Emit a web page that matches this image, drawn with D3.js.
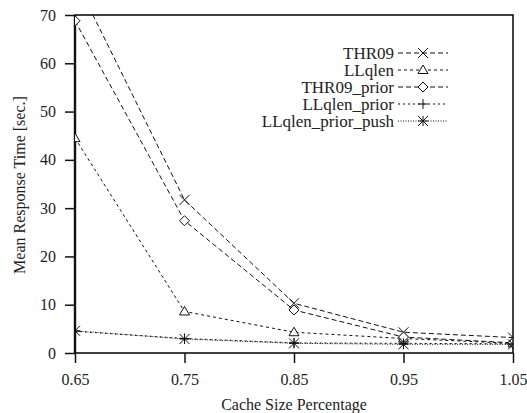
<!DOCTYPE html>
<html>
<head>
<meta charset="utf-8">
<script src="https://cdn.jsdelivr.net/npm/d3@7"></script>
<style>
  body { margin: 0; background: #fff; }
  svg text { font-family: "Liberation Serif", "Times New Roman", serif !important; fill: #222; }
</style>
</head>
<body>
<div id="chart"></div>
<script>
const cacheSizes = [0.65, 0.75, 0.85, 0.95, 1.05];
const thr09 = [77.5, 31.7, 10.3, 4.3, 3.2];
const llqlen = [44.5, 8.6, 4.3, 3.0, 2.0];
const thr09Prior = [68.8, 27.4, 8.9, 3.3, 2.1];
const llqlenPrior = [4.5, 3.0, 2.1, 2.0, 1.9];
const llqlenPriorPush = [4.6, 2.9, 2.0, 1.8, 1.8];
const yTicks = [0, 10, 20, 30, 40, 50, 60, 70];

const series = [
  { name: "THR09", values: thr09, dash: "5,3", marker: "cross" },
  { name: "LLqlen", values: llqlen, dash: "3,3", marker: "triangle" },
  { name: "THR09_prior", values: thr09Prior, dash: "5,3", marker: "diamond" },
  { name: "LLqlen_prior", values: llqlenPrior, dash: "2,3", marker: "plus" },
  { name: "LLqlen_prior_push", values: llqlenPriorPush, dash: "1,1.5", marker: "star" }
];

const margin = { top: 15, right: 14, bottom: 60, left: 75 };
const W = 527, H = 413;
const width = W - margin.left - margin.right;
const height = H - margin.top - margin.bottom;

const svg = d3.select("#chart").append("svg")
  .attr("width", W)
  .attr("height", H);
const g = svg.append("g")
  .attr("transform", "translate(" + margin.left + "," + margin.top + ")");

const x = d3.scaleLinear().domain([0.65, 1.05]).range([0, width]);
const y = d3.scaleLinear().domain([0, 70]).range([height, 0]);

g.append("clipPath").attr("id", "clip")
  .append("rect").attr("width", width).attr("height", height);

// axes
const yAxis = g.append("g")
  .call(d3.axisLeft(y).tickValues(yTicks).tickSize(10).tickPadding(9));
const xAxis = g.append("g")
  .attr("transform", "translate(0," + height + ")")
  .call(d3.axisBottom(x).tickValues(cacheSizes).tickSize(10).tickPadding(11).tickFormat(d3.format(".2f")));

[yAxis, xAxis].forEach(a => {
  a.attr("font-family", null).attr("font-size", null);
  a.select(".domain").remove();
  a.selectAll("line").attr("stroke", "#111").attr("stroke-width", 1.5);
  a.selectAll("text").style("font-size", "16px").attr("fill", "#222");
});

// frame
g.append("rect")
  .attr("width", width).attr("height", height)
  .attr("fill", "none").attr("stroke", "#111").attr("stroke-width", 1.6);
g.append("line")
  .attr("x1", 0).attr("x2", 0).attr("y1", 0).attr("y2", height)
  .attr("stroke", "#111").attr("stroke-width", 2.4);

const line = d3.line()
  .x((d, i) => x(cacheSizes[i]))
  .y(d => y(d));

const plot = g.append("g").attr("clip-path", "url(#clip)");

function drawMarker(sel, type, cx, cy) {
  const s = 5;
  const m = sel.append("g").attr("transform", "translate(" + cx + "," + cy + ")")
    .attr("fill", "none").attr("stroke", "#111").attr("stroke-width", 1);
  if (type === "cross") {
    m.append("path").attr("d", `M${-s},${-s}L${s},${s}M${-s},${s}L${s},${-s}`);
  } else if (type === "plus") {
    m.append("path").attr("d", `M${-s},0L${s},0M0,${-s}L0,${s}`);
  } else if (type === "star") {
    m.append("path").attr("d", `M${-s},0L${s},0M0,${-s}L0,${s}M${-s},${-s}L${s},${s}M${-s},${s}L${s},${-s}`);
  } else if (type === "triangle") {
    m.append("path").attr("d", `M0,${-s}L${s},${s * 0.7}L${-s},${s * 0.7}Z`).attr("fill", "#fff");
  } else if (type === "diamond") {
    m.append("path").attr("d", `M0,${-s}L${s},0L0,${s}L${-s},0Z`).attr("fill", "#fff");
  }
}

series.forEach(s => {
  plot.append("path")
    .datum(s.values)
    .attr("fill", "none")
    .attr("stroke", "#111")
    .attr("stroke-width", 1)
    .attr("stroke-dasharray", s.dash)
    .attr("d", line);
});
series.forEach(s => {
  s.values.forEach((v, i) => drawMarker(plot, s.marker, x(cacheSizes[i]), y(v)));
});

// legend
const legend = g.append("g").attr("transform", "translate(" + (394 - margin.left) + "," + (53 - margin.top) + ")");
series.forEach((s, i) => {
  const row = legend.append("g").attr("transform", "translate(0," + i * 17 + ")");
  row.append("text")
    .attr("text-anchor", "end")
    .attr("dy", "0.35em")
    .style("font-size", "17px")
    .text(s.name);
  row.append("line")
    .attr("x1", 4).attr("x2", 54)
    .attr("stroke", "#111").attr("stroke-width", 1)
    .attr("stroke-dasharray", s.dash);
  drawMarker(row, s.marker, 29, 0);
});

// axis labels
svg.append("text")
  .attr("text-anchor", "middle")
  .attr("transform", "translate(19,185) rotate(-90)")
  .attr("dy", "0.35em")
  .style("font-size", "16px")
  .text("Mean Response Time [sec.]");
svg.append("text")
  .attr("text-anchor", "middle")
  .attr("x", 294)
  .attr("y", 404)
  .attr("dy", "0.35em")
  .style("font-size", "16px")
  .text("Cache Size Percentage");
</script>
</body>
</html>
